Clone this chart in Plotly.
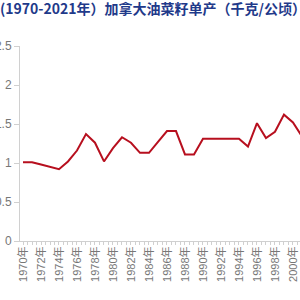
import plotly.graph_objects as go

years = list(range(1970, 2002))
yields = [1.01, 1.01, 0.98, 0.95, 0.92, 1.02, 1.16, 1.37, 1.26, 1.02,
          1.19, 1.33, 1.26, 1.13, 1.13, 1.27, 1.41, 1.41, 1.11, 1.11,
          1.31, 1.31, 1.31, 1.31, 1.31, 1.21, 1.51, 1.32, 1.40, 1.62,
          1.52, 1.34]
tick_years = list(range(1970, 2002, 2))
tick_labels = [f"{y}年" for y in tick_years]
title_text = "(1970-2021年）加拿大油菜籽单产（千克/公顷）"

fig = go.Figure()
fig.add_trace(go.Scatter(x=years, y=yields, mode="lines",
                         line=dict(color="#B70F1E", width=2), hoverinfo="skip"))

fig.update_layout(
    width=300, height=300,
    margin=dict(l=20, r=0, t=46, b=59, autoexpand=False),
    paper_bgcolor="white", plot_bgcolor="white",
    showlegend=False,
    title=dict(text=title_text, x=0, xref="container", xanchor="left",
               y=0.985, yanchor="top", yref="container", pad=dict(l=0),
               font=dict(family="Noto Sans CJK SC", size=14, color="#1F3A8A", weight="bold")),
    font=dict(family="Liberation Sans, Noto Sans CJK SC"),
)
fig.update_xaxes(
    range=[1969.667, 2000.78], tickmode="array", tickvals=tick_years, ticktext=tick_labels,
    tickangle=-90, tickfont=dict(size=11, color="#777777", family="Liberation Sans, Noto Sans CJK SC"),
    showline=True, linecolor="#D0D0D0", linewidth=1, showgrid=False, zeroline=False,
    ticks="", automargin=False,
    minor=dict(ticks="outside", tick0=1969.5, dtick=0.5, ticklen=3, tickcolor="#D0D0D0"),
)
fig.update_yaxes(
    range=[0, 2.5], tickvals=[0, 0.5, 1, 1.5, 2, 2.5], ticktext=["0", "0.5", "1", "1.5", "2", "2.5"],
    tickfont=dict(size=12, color="#777777"), showline=True, linecolor="#D0D0D0", linewidth=1,
    ticks="outside", ticklen=5, tickcolor="#D0D0D0", showgrid=False, zeroline=False,
    automargin=False,
)
fig.write_html("out.html")
